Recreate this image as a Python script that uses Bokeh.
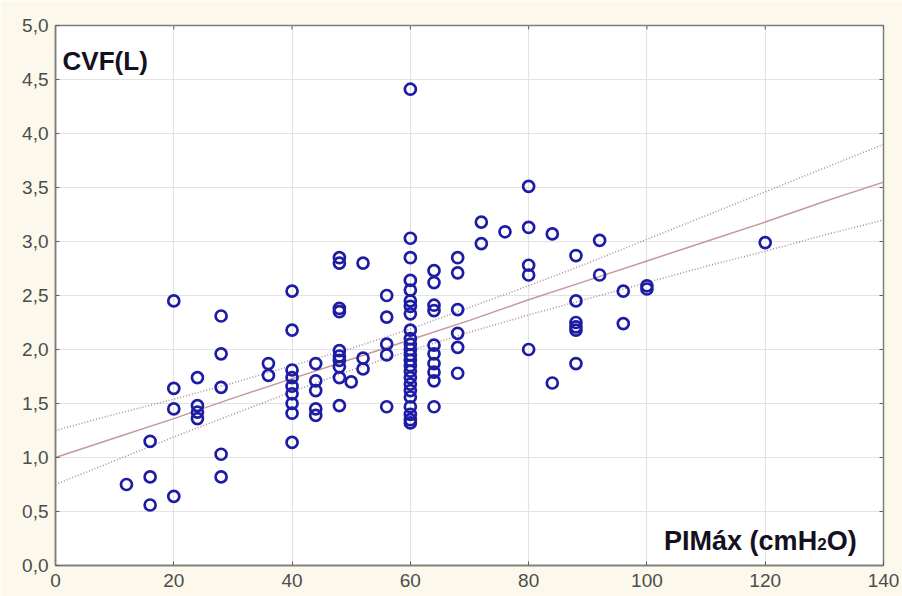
from bokeh.plotting import figure
from bokeh.models import Range1d, FixedTicker, CustomJSTickFormatter, Label
from bokeh.embed import file_html
from bokeh.resources import INLINE

# PIMáx (cmH2O) vs CVF (L) observations
pimax = [12,
         16, 16, 16,
         20, 20, 20, 20,
         24, 24, 24, 24,
         28, 28, 28, 28, 28,
         36, 36,
         40, 40, 40, 40, 40, 40, 40, 40, 40,
         44, 44, 44, 44, 44,
         48, 48, 48, 48, 48, 48, 48, 48, 48, 48,
         50,
         52, 52, 52,
         56, 56, 56, 56, 56,
         60, 60, 60, 60, 60, 60, 60, 60, 60, 60, 60, 60, 60, 60, 60, 60, 60, 60, 60, 60, 60, 60, 60, 60,
         64, 64, 64, 64, 64, 64, 64, 64, 64, 64,
         68, 68, 68, 68, 68, 68,
         72, 72,
         76,
         80, 80, 80, 80, 80,
         84, 84,
         88, 88, 88, 88, 88, 88,
         92, 92,
         96, 96,
         100, 100,
         120]
cvf = [0.75,
       1.15, 0.82, 0.56,
       2.45, 1.64, 1.45, 0.64,
       1.74, 1.48, 1.42, 1.36,
       2.31, 1.96, 1.65, 1.03, 0.82,
       1.87, 1.76,
       2.54, 2.18, 1.81, 1.74, 1.66, 1.59, 1.50, 1.41, 1.14,
       1.87, 1.71, 1.62, 1.45, 1.39,
       2.85, 2.80, 2.38, 2.35, 1.99, 1.94, 1.90, 1.84, 1.74, 1.48,
       1.70,
       2.80, 1.92, 1.82,
       2.50, 2.30, 2.05, 1.95, 1.47,
       4.41, 3.03, 2.85, 2.64, 2.55, 2.45, 2.40, 2.33, 2.18, 2.10, 2.05, 2.00, 1.95, 1.90, 1.85, 1.80, 1.74, 1.68, 1.62, 1.56, 1.47, 1.40, 1.35, 1.32,
       2.73, 2.62, 2.41, 2.36, 2.04, 1.96, 1.87, 1.79, 1.71, 1.47,
       2.85, 2.71, 2.37, 2.15, 2.02, 1.78,
       3.18, 2.98,
       3.09,
       3.51, 3.13, 2.78, 2.69, 2.00,
       3.07, 1.69,
       2.87, 2.45, 2.25, 2.21, 2.18, 1.87,
       3.01, 2.69,
       2.54, 2.24,
       2.59, 2.56,
       2.99]

# fitted line and its 95% confidence band
band_x = [0, 10, 20, 30, 40, 50, 60, 70, 80, 90, 100, 110, 120, 130, 140]
fit_y = [1.00, 1.18, 1.36, 1.55, 1.73, 1.91, 2.09, 2.27, 2.46, 2.64, 2.82, 3.00, 3.18, 3.37, 3.55]
upper_y = [1.25, 1.40, 1.54, 1.69, 1.85, 2.01, 2.19, 2.39, 2.59, 2.80, 3.02, 3.24, 3.46, 3.68, 3.90]
lower_y = [0.75, 0.97, 1.19, 1.40, 1.61, 1.81, 1.99, 2.16, 2.32, 2.47, 2.62, 2.77, 2.91, 3.06, 3.20]

x_ticks = [0, 20, 40, 60, 80, 100, 120, 140]
y_ticks = [0.0, 0.5, 1.0, 1.5, 2.0, 2.5, 3.0, 3.5, 4.0, 4.5, 5.0]

X_MIN, X_MAX = 0, 140
Y_MIN, Y_MAX = 0, 5

AXIS_GRAY = "#7d7d7d"
TICK_GRAY = "#606060"
TICK_TEXT = "#4d4d4d"
FONT = "Liberation Sans"

p = figure(width=902, height=596,
           x_range=Range1d(X_MIN, X_MAX), y_range=Range1d(Y_MIN, Y_MAX),
           output_backend="svg", toolbar_location=None,
           min_border_left=55, min_border_right=19,
           min_border_top=25, min_border_bottom=31,
           background_fill_color="white",
           border_fill_color="#FCF8EC")

p.outline_line_color = AXIS_GRAY
p.outline_line_width = 1.5

comma_fmt = CustomJSTickFormatter(code="return tick.toFixed(1).replace('.', ',');")

p.xaxis.ticker = FixedTicker(ticks=x_ticks)
p.yaxis.ticker = FixedTicker(ticks=y_ticks)
p.yaxis.formatter = comma_fmt

for ax in (p.xaxis[0], p.yaxis[0]):
    ax.axis_line_color = AXIS_GRAY
    ax.axis_line_width = 1.5
    ax.major_tick_in = 4
    ax.major_tick_out = 0
    ax.major_tick_line_color = TICK_GRAY
    ax.minor_tick_line_color = None
    ax.major_label_text_font = FONT
    ax.major_label_text_font_size = "19px"
    ax.major_label_text_color = TICK_TEXT
p.yaxis.major_label_standoff = 7
p.xaxis.major_label_standoff = 8

p.xgrid.grid_line_color = "#E3E3E3"
p.ygrid.grid_line_color = "#E3E3E3"
p.xgrid.grid_line_width = 1.2
p.ygrid.grid_line_width = 1.2

# short inward ticks along the top and right edges of the frame
tick_dx = 0.68   # ~4 px in x units
tick_dy = 0.037  # ~4 px in y units
p.segment(x0=x_ticks, y0=[Y_MAX] * len(x_ticks),
          x1=x_ticks, y1=[Y_MAX - tick_dy] * len(x_ticks),
          line_color=TICK_GRAY, line_width=1)
p.segment(x0=[X_MAX] * len(y_ticks), y0=y_ticks,
          x1=[X_MAX - tick_dx] * len(y_ticks), y1=y_ticks,
          line_color=TICK_GRAY, line_width=1)

# regression line with confidence limits
p.line(band_x, upper_y, line_color="#A88C98", line_width=1.5, line_dash="1 2")
p.line(band_x, lower_y, line_color="#A88C98", line_width=1.5, line_dash="1 2")
p.line(band_x, fit_y, line_color="#C49A98", line_width=1.5)

p.scatter(pimax, cvf, marker="circle", size=11, fill_color=None,
          line_color="#1C1CA4", line_width=2.7)

TITLE_COLOR = "#141020"
p.add_layout(Label(x=1.2, y=4.667, text="CVF(L)", text_font=FONT,
                   text_font_size="26px", text_font_style="bold",
                   text_color=TITLE_COLOR, text_baseline="alphabetic"))
p.add_layout(Label(x=102.9, y=0.231, text="PIMáx (cmH", text_font=FONT,
                   text_font_size="27px", text_font_style="bold",
                   text_color=TITLE_COLOR, text_baseline="alphabetic"))
p.add_layout(Label(x=128.8, y=0.195, text="2", text_font=FONT,
                   text_font_size="17px", text_font_style="bold",
                   text_color=TITLE_COLOR, text_baseline="alphabetic"))
p.add_layout(Label(x=130.4, y=0.231, text="O)", text_font=FONT,
                   text_font_size="27px", text_font_style="bold",
                   text_color=TITLE_COLOR, text_baseline="alphabetic"))

open("out.html", "w").write(file_html(p, INLINE))
